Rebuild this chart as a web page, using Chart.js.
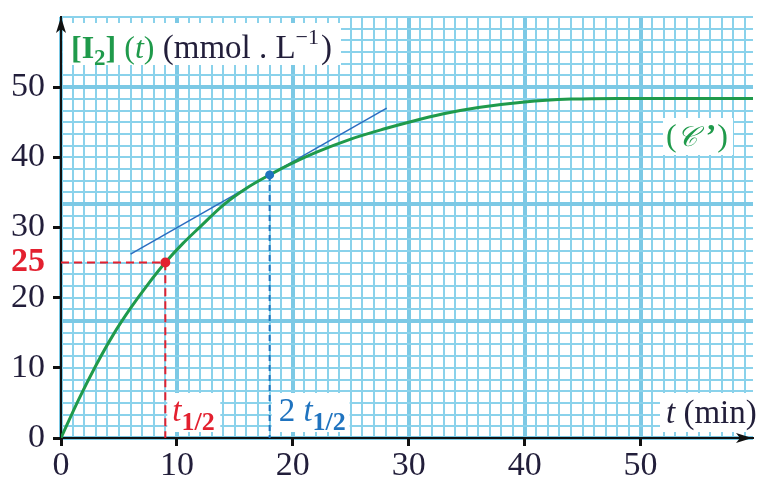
<!DOCTYPE html>
<html>
<head>
<meta charset="utf-8">
<script src="https://cdn.jsdelivr.net/npm/chart.js@4.4.1/dist/chart.umd.min.js"></script>
<style>
  html, body { margin: 0; padding: 0; background: #ffffff; }
  canvas { display: block; }
</style>
</head>
<body>
<canvas id="chart" width="758" height="483"></canvas>
<script>
// Curve (C'): iodine concentration [I2](t) in mmol/L against time t in minutes
const times  = [0, 1.5, 3, 4.5, 6, 7.5, 9, 10.5, 12, 14, 16, 18, 20, 22, 25, 28, 30, 33, 36, 40, 44, 48, 52, 56, 59.7];
const iodine = [0, 5.4, 10.3, 14.7, 18.5, 21.9, 25.0, 27.7, 30.1, 33.2, 35.6, 37.5, 39.2, 40.7, 42.6, 44.1, 45.0, 46.2, 47.1, 47.9, 48.3, 48.4, 48.4, 48.4, 48.4];

// Half-life construction
const halfLife = 9;          // t1/2 (min)
const halfConc = 25;         // [I2] at t1/2
const twoHalfLife = 18;      // 2 t1/2 (min)
const concAtTwoHalf = 37.5;  // [I2] at 2 t1/2

// Tangent to the curve at 2 t1/2
const tangentT = [6, 28.1];
const tangentC = [26.2, 47.0];

// Tick labels
const xTicks = [0, 10, 20, 30, 40, 50];
const yTicks = [0, 10, 20, 30, 40, 50];

// Axis extents and graph-paper spacing
const xMax = 59.7;
const yMax = 60;
const paperStepX = 1;
const paperStepY = 5 / 3;

const SERIF = '"Liberation Serif", "Times New Roman", serif';
const GREEN = '#1f9a4b';
const RED = '#e3202f';
const BLUE = '#1f73bf';
const INK = '#221e3a';
const PAPER_MINOR = '#8ad2eb';
const PAPER_MAJOR = '#7cc9e5';

function range(step, max) {
  const out = [];
  for (let k = 0; k * step <= max + 1e-9; k++) out.push({ value: k * step });
  return out;
}

function tickValue(c) {
  return c && c.tick ? c.tick.value : NaN;
}

function isMajorX(c) {
  const v = tickValue(c);
  return Number.isFinite(v) && Math.round(v) % 10 === 0;
}

function isMajorY(c) {
  const v = tickValue(c);
  return Number.isFinite(v) && Math.round(v / paperStepY) % 10 === 0;
}

// Axes keep exactly the room they are given, with no extra edge padding
function noEdgePadding(s) {
  s.paddingTop = 0;
  s.paddingBottom = 0;
  s.paddingLeft = 0;
  s.paddingRight = 0;
}

// Draws a row of differently styled text pieces one after another
function drawRuns(ctx, x, y, runs) {
  for (const r of runs) {
    ctx.font = r.font;
    ctx.fillStyle = r.color;
    x += r.dx || 0;
    ctx.fillText(r.text, x, y + (r.dy || 0));
    x += ctx.measureText(r.text).width;
  }
  return x;
}

function whiteBox(ctx, x, y, w, h) {
  ctx.fillStyle = '#ffffff';
  ctx.fillRect(x, y, w, h);
}

const annotations = {
  id: 'annotations',
  afterDatasetsDraw(chart) {
    const ctx = chart.ctx;
    const xs = chart.scales.x;
    const area = chart.chartArea;
    ctx.save();
    ctx.textBaseline = 'alphabetic';
    ctx.textAlign = 'left';

    // Vertical axis title
    whiteBox(ctx, area.left + 2, 23, 278, 42);
    drawRuns(ctx, area.left + 10, 58, [
      { text: '[I', font: 'bold 32px ' + SERIF, color: GREEN },
      { text: '2', font: 'bold 23px ' + SERIF, color: GREEN, dy: 7 },
      { text: ']', font: 'bold 32px ' + SERIF, color: GREEN },
      { text: ' (', font: '32px ' + SERIF, color: GREEN },
      { text: 't', font: 'italic 32px ' + SERIF, color: GREEN },
      { text: ')', font: '32px ' + SERIF, color: GREEN },
      { text: ' (mmol . L', font: '33px ' + SERIF, color: INK },
      { text: '\u22121', font: '22px ' + SERIF, color: INK, dy: -14 },
      { text: ')', font: '33px ' + SERIF, color: INK, dx: 2 }
    ]);

    // Curve name
    whiteBox(ctx, 663, 118, 70, 37);
    drawRuns(ctx, 666, 146, [
      { text: '(', font: '32px ' + SERIF, color: GREEN },
      { text: '\uD835\uDC9E', font: 'italic 28px ' + SERIF, color: GREEN },
      { text: '\u2019', font: 'bold 32px ' + SERIF, color: GREEN, dx: 9 },
      { text: ')', font: '32px ' + SERIF, color: GREEN, dx: 1 }
    ]);

    // t1/2 under the red construction
    const xHalf = xs.getPixelForValue(halfLife);
    whiteBox(ctx, xHalf + 2, 393, 53, 39);
    drawRuns(ctx, xHalf + 7, 421, [
      { text: 't', font: 'italic 33px ' + SERIF, color: RED },
      { text: '1/2', font: 'bold 26px ' + SERIF, color: RED, dy: 9 }
    ]);

    // 2 t1/2 under the blue construction
    const xTwo = xs.getPixelForValue(twoHalfLife);
    whiteBox(ctx, xTwo + 2, 393, 78, 39);
    drawRuns(ctx, xTwo + 9, 421, [
      { text: '2 ', font: '33px ' + SERIF, color: BLUE },
      { text: 't', font: 'italic 33px ' + SERIF, color: BLUE },
      { text: '1/2', font: 'bold 26px ' + SERIF, color: BLUE, dy: 9 }
    ]);

    // Horizontal axis title
    whiteBox(ctx, 660, 393, 98, 39);
    drawRuns(ctx, 666, 423, [
      { text: 't', font: 'italic 33px ' + SERIF, color: INK },
      { text: ' (min)', font: '33px ' + SERIF, color: INK }
    ]);

    // Axis arrows
    ctx.fillStyle = '#111111';
    const ax = area.left, ay = area.bottom;
    ctx.beginPath();
    ctx.moveTo(ax, area.top);
    ctx.lineTo(ax - 5, area.top + 16);
    ctx.lineTo(ax, area.top + 12);
    ctx.lineTo(ax + 5, area.top + 16);
    ctx.closePath();
    ctx.fill();
    const tipX = area.right - 1;
    ctx.beginPath();
    ctx.moveTo(tipX, ay);
    ctx.lineTo(tipX - 16, ay - 5);
    ctx.lineTo(tipX - 12, ay);
    ctx.lineTo(tipX - 16, ay + 5);
    ctx.closePath();
    ctx.fill();
    ctx.restore();
  }
};

const curve = times.map((t, i) => ({ x: t, y: iodine[i] }));
const tangent = tangentT.map((t, i) => ({ x: t, y: tangentC[i] }));

new Chart(document.getElementById('chart'), {
  type: 'line',
  data: {
    datasets: [
      {
        label: "(C')",
        data: curve,
        borderColor: GREEN,
        borderWidth: 3,
        cubicInterpolationMode: 'monotone',
        pointRadius: 0,
        order: 1
      },
      {
        label: 'half-life point',
        data: [{ x: halfLife, y: halfConc }],
        showLine: false,
        pointRadius: 5,
        pointBackgroundColor: RED,
        pointBorderWidth: 0,
        order: 0
      },
      {
        label: 'point at 2 t1/2',
        data: [{ x: twoHalfLife, y: concAtTwoHalf }],
        showLine: false,
        pointRadius: 4.5,
        pointBackgroundColor: BLUE,
        pointBorderWidth: 0,
        order: 0
      },
      {
        label: 'tangent',
        data: tangent,
        borderColor: '#2b6cc0',
        borderWidth: 1.5,
        pointRadius: 0,
        order: 2
      },
      {
        label: 'half-life guide',
        data: [{ x: 0, y: halfConc }, { x: halfLife, y: halfConc }, { x: halfLife, y: 0 }],
        borderColor: RED,
        borderWidth: 2,
        borderDash: [8, 5],
        pointRadius: 0,
        tension: 0,
        order: 3
      },
      {
        label: '2 t1/2 guide',
        data: [{ x: twoHalfLife, y: concAtTwoHalf }, { x: twoHalfLife, y: 0 }],
        borderColor: BLUE,
        borderWidth: 2,
        borderDash: [6, 4],
        pointRadius: 0,
        tension: 0,
        order: 3
      }
    ]
  },
  options: {
    responsive: false,
    animation: false,
    devicePixelRatio: 1,
    layout: { padding: { top: 17, right: 0, bottom: 0, left: 0 } },
    plugins: { legend: { display: false }, tooltip: { enabled: false } },
    scales: {
      xPaper: {
        type: 'linear', position: 'bottom', min: 0, max: xMax,
        afterBuildTicks: s => { s.ticks = range(paperStepX, xMax); },
        afterFit: s => { s.height = 0; noEdgePadding(s); },
        ticks: { display: false },
        border: { display: false },
        grid: {
          drawTicks: false,
          color: c => (isMajorX(c) ? PAPER_MAJOR : PAPER_MINOR),
          lineWidth: c => (isMajorX(c) ? 4 : 2)
        }
      },
      yPaper: {
        type: 'linear', position: 'left', min: 0, max: yMax,
        afterBuildTicks: s => { s.ticks = range(paperStepY, yMax); },
        afterFit: s => { s.width = 0; noEdgePadding(s); },
        ticks: { display: false },
        border: { display: false },
        grid: {
          drawTicks: false,
          color: c => (isMajorY(c) ? PAPER_MAJOR : PAPER_MINOR),
          lineWidth: c => (isMajorY(c) ? 4 : 2)
        }
      },
      x: {
        type: 'linear', position: 'bottom', min: 0, max: xMax,
        afterBuildTicks: s => { s.ticks = xTicks.map(v => ({ value: v })); },
        afterFit: s => { s.height = 45; noEdgePadding(s); },
        ticks: {
          color: INK,
          padding: 0,
          maxRotation: 0,
          font: { family: SERIF, size: 34 }
        },
        border: { display: true, color: '#111111', width: 2 },
        grid: { drawOnChartArea: false, drawTicks: true, tickLength: 8, tickWidth: 3, tickColor: '#111111' }
      },
      y: {
        type: 'linear', position: 'left', min: 0, max: yMax,
        afterBuildTicks: s => {
          s.ticks = yTicks.concat([halfConc]).sort((a, b) => a - b).map(v => ({ value: v }));
        },
        afterFit: s => { s.width = 61; noEdgePadding(s); },
        ticks: {
          padding: 8,
          color: c => (tickValue(c) === halfConc ? RED : INK),
          font: c => (tickValue(c) === halfConc
            ? { family: SERIF, size: 34, weight: 'bold' }
            : { family: SERIF, size: 34 })
        },
        border: { display: true, color: '#111111', width: 2 },
        grid: {
          drawOnChartArea: false, drawTicks: true, tickLength: 8, tickWidth: 3,
          tickColor: c => (tickValue(c) === halfConc ? 'rgba(0,0,0,0)' : '#111111')
        }
      }
    }
  },
  plugins: [annotations]
});
</script>
</body>
</html>
